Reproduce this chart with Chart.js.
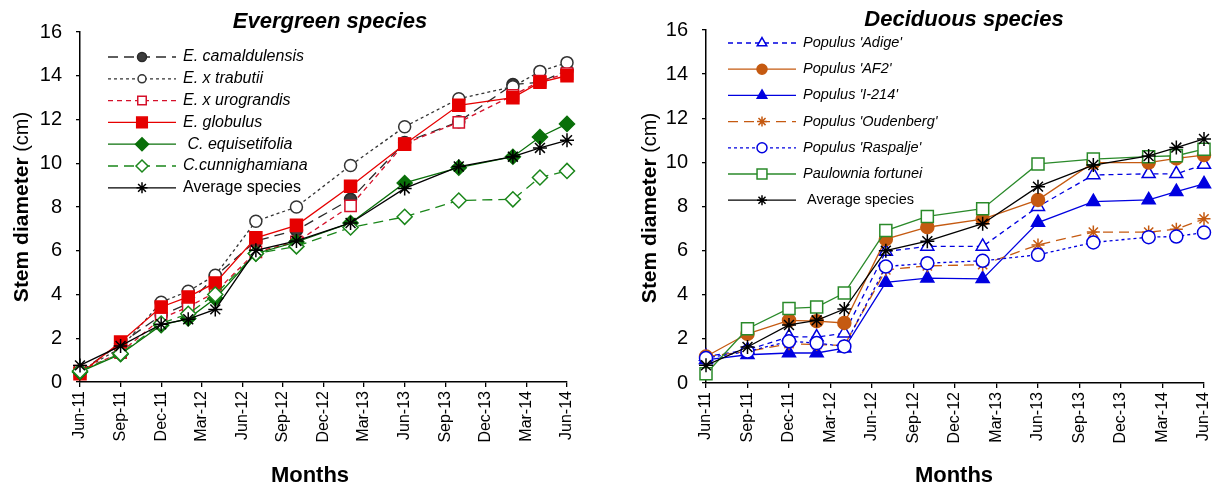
<!DOCTYPE html>
<html>
<head>
<meta charset="utf-8">
<script src="https://cdn.jsdelivr.net/npm/chart.js@4"></script>
<style>
body { margin: 0; background: #fff; width: 1215px; height: 486px; overflow: hidden; position: relative; }
canvas { position: absolute; top: 0; }
#left { left: 0; }
#right { left: 600px; }
</style>
</head>
<body>
<canvas id="left" width="600" height="486"></canvas>
<canvas id="right" width="615" height="486"></canvas>
<script>
// months since Jun-11 for each measurement
const months = [0, 3, 6, 8, 10, 13, 16, 20, 24, 28, 32, 34, 36];
const tickLabels = ['Jun-11','Sep-11','Dec-11','Mar-12','Jun-12','Sep-12','Dec-12','Mar-13','Jun-13','Sep-13','Dec-13','Mar-14','Jun-14'];

// evergreen
const camaldulensis = [0.46, 1.75, 3.05, 3.58, 4.83, 6.45, 6.94, 8.35, 10.95, 11.9, 13.6, 13.7, 14.25];
const trabutii      = [0.5, 1.55, 3.65, 4.15, 4.88, 7.35, 8.0, 9.9, 11.67, 12.95, 13.5, 14.2, 14.6];
const urograndis    = [0.5, 1.35, 2.9, 3.43, 4.1, 5.95, 6.4, 8.05, 10.9, 11.87, 13.1, 13.75, 14.1];
const globulus      = [0.38, 1.83, 3.43, 3.89, 4.53, 6.59, 7.16, 8.95, 10.87, 12.65, 13.0, 13.7, 14.0];
const equisetifolia = [0.46, 1.27, 2.6, 2.9, 3.82, 5.87, 6.4, 7.27, 9.1, 9.8, 10.3, 11.2, 11.8];
const cunnighamiana = [0.5, 1.3, 2.67, 3.12, 4.0, 5.87, 6.2, 7.06, 7.55, 8.3, 8.35, 9.35, 9.65];
const avgEvergreen  = [0.76, 1.65, 2.64, 2.87, 3.32, 6.02, 6.45, 7.27, 8.85, 9.85, 10.3, 10.7, 11.05];

// deciduous
const adige      = [1.2, 1.5, 2.1, 2.08, 2.26, 5.96, 6.19, 6.19, 7.99, 9.43, 9.48, 9.48, 9.9];
const af2        = [1.2, 2.23, 2.84, 2.8, 2.72, 6.52, 7.06, 7.43, 8.3, 9.99, 9.99, 10.18, 10.33];
const i214       = [1.05, 1.28, 1.36, 1.36, 1.58, 4.56, 4.75, 4.72, 7.27, 8.22, 8.3, 8.67, 9.02];
const oudenberg  = [1.2, 1.43, 1.78, 1.74, 1.7, 5.13, 5.31, 5.36, 6.26, 6.84, 6.84, 6.97, 7.44];
const raspalje   = [1.13, 1.43, 1.89, 1.81, 1.66, 5.28, 5.43, 5.54, 5.81, 6.37, 6.61, 6.64, 6.82];
const paulownia  = [0.42, 2.46, 3.38, 3.44, 4.08, 6.91, 7.55, 7.9, 9.93, 10.15, 10.26, 10.3, 10.6];
const avgDeciduous = [0.8, 1.63, 2.63, 2.84, 3.35, 6.0, 6.43, 7.22, 8.9, 9.88, 10.29, 10.67, 11.06];

const FONT = 'Arial, "Liberation Sans", sans-serif';

function pts(vals) {
    return months.map((m, i) => ({ x: m, y: vals[i] }));
}

function ds(label, vals, color, fill, style, dash, radius, legR, italic) {
    return {
        label: label,
        data: pts(vals),
        borderColor: color,
        backgroundColor: fill,
        pointBackgroundColor: fill,
        pointBorderColor: color,
        pointStyle: style,
        pointRadius: radius,
        pointBorderWidth: 1.5,
        borderWidth: 1.3,
        borderDash: dash,
        fill: false,
        tension: 0,
        clip: false,
        legR: legR,
        italic: italic !== false
    };
}

function makePlugin(p) {
    return {
        id: 'deco',
        afterDraw(chart) {
            const ctx = chart.ctx;
            ctx.save();
            // title
            ctx.fillStyle = '#000';
            ctx.font = 'italic bold 22px ' + FONT;
            ctx.textAlign = 'center';
            ctx.textBaseline = 'middle';
            ctx.fillText(p.title, p.titleX, p.titleY);

            // x axis title
            ctx.font = 'bold 22px ' + FONT;
            ctx.fillText('Months', p.xTitleX, 476);

            // y axis title, bold + normal part
            ctx.save();
            ctx.translate(p.yTitleX, p.yTitleY);
            ctx.rotate(-Math.PI / 2);
            ctx.font = 'bold 21px ' + FONT;
            const w1 = ctx.measureText('Stem diameter').width;
            ctx.font = '20px ' + FONT;
            const w2 = ctx.measureText(' (cm)').width;
            let x = -(w1 + w2) / 2;
            ctx.textAlign = 'left';
            ctx.font = 'bold 21px ' + FONT;
            ctx.fillText('Stem diameter', x, 0);
            ctx.font = '20px ' + FONT;
            ctx.fillText(' (cm)', x + w1, 0);
            ctx.restore();

            // legend inside the plot
            chart.data.datasets.forEach((d, i) => {
                const y = p.legY + i * p.legDy;
                ctx.save();
                ctx.strokeStyle = d.borderColor;
                ctx.lineWidth = d.borderWidth;
                ctx.setLineDash(d.borderDash || []);
                ctx.beginPath();
                ctx.moveTo(p.legX1, y);
                ctx.lineTo(p.legX2, y);
                ctx.stroke();
                ctx.setLineDash([]);
                ctx.fillStyle = d.pointBackgroundColor;
                ctx.strokeStyle = d.pointBorderColor;
                ctx.lineWidth = 1.5;
                Chart.helpers.drawPoint(ctx, {
                    pointStyle: d.pointStyle,
                    radius: d.legR,
                    borderWidth: 1.5,
                    rotation: 0
                }, (p.legX1 + p.legX2) / 2, y);
                ctx.fillStyle = '#000';
                ctx.font = (d.italic ? 'italic ' : '') + p.legFont + 'px ' + FONT;
                ctx.textAlign = 'left';
                ctx.textBaseline = 'middle';
                ctx.fillText(d.label, p.legText, y);
                ctx.restore();
            });
            ctx.restore();
        }
    };
}

function makeChart(id, datasets, p) {
    // later series drawn on top
    datasets.forEach((d, i) => { d.order = datasets.length - i; });
    return new Chart(document.getElementById(id), {
        type: 'line',
        data: { datasets: datasets },
        options: {
            responsive: false,
            animation: false,
            devicePixelRatio: 1,
            layout: { padding: { top: p.top, right: p.right, left: 0, bottom: 0 } },
            plugins: { legend: { display: false }, tooltip: { enabled: false } },
            scales: {
                x: {
                    type: 'linear',
                    min: 0,
                    max: 36,
                    afterFit: s => { s.height = p.xHeight; s.paddingLeft = 0; s.paddingRight = 0; },
                    afterBuildTicks: s => { s.ticks = tickLabels.map((t, i) => ({ value: i * 3 })); },
                    ticks: {
                        autoSkip: false,
                        maxRotation: 90,
                        minRotation: 90,
                        padding: 4,
                        color: '#000',
                        font: { family: FONT, size: 16 },
                        callback: v => tickLabels[Math.round(v / 3)]
                    },
                    grid: { drawOnChartArea: false, drawTicks: true, tickLength: 5, color: '#000', lineWidth: 1.3 },
                    border: { color: '#000', width: 1.5 }
                },
                y: {
                    min: 0,
                    max: 16,
                    afterFit: s => { s.width = p.yWidth; },
                    ticks: { stepSize: 2, padding: 14, color: '#000', font: { family: FONT, size: 20 } },
                    grid: { drawOnChartArea: false, drawTicks: true, tickLength: 4, color: '#000', lineWidth: 1.3 },
                    border: { color: '#000', width: 1.5 }
                }
            }
        },
        plugins: [makePlugin(p)]
    });
}

const evergreen = [
    ds('E. camaldulensis', camaldulensis, '#2a2a2a', '#3c3c3c', 'circle', [10, 6], 6, 4.5),
    ds('E. x trabutii', trabutii, '#333', '#fff', 'circle', [3, 3], 6, 4),
    ds('E. x urograndis', urograndis, '#d5102a', '#fff', 'rect', [5, 4], 8, 6),
    ds('E. globulus', globulus, '#e60000', '#e60000', 'rect', [], 8.5, 7.5),
    ds(' C. equisetifolia', equisetifolia, '#0a700a', '#0a700a', 'rectRot', [], 7.5, 6.5),
    ds('C.cunnighamiana', cunnighamiana, '#1a861a', '#fff', 'rectRot', [10, 6], 7.5, 6),
    ds('Average species', avgEvergreen, '#000', '#000', 'star', [], 7, 5.5, false)
];

const deciduous = [
    ds("Populus 'Adige'", adige, '#0000e0', '#fff', 'triangle', [5, 4], 7.5, 5.5),
    ds("Populus 'AF2'", af2, '#c55a11', '#c55a11', 'circle', [], 6.5, 5),
    ds("Populus 'I-214'", i214, '#0000e0', '#0000e0', 'triangle', [], 7.5, 5.5),
    ds("Populus 'Oudenberg'", oudenberg, '#c55a11', '#c55a11', 'star', [10, 6], 6.5, 5),
    ds("Populus 'Raspalje'", raspalje, '#0000e0', '#fff', 'circle', [3, 3], 6.5, 5),
    ds('Paulownia fortunei', paulownia, '#2a8a2a', '#fff', 'rect', [], 8.5, 7),
    ds(' Average species', avgDeciduous, '#000', '#000', 'star', [], 7, 5, false)
];

makeChart('left', evergreen, {
    top: 32, right: 33, xHeight: 104, yWidth: 80,
    title: 'Evergreen species', titleX: 330, titleY: 22,
    xTitleX: 310,
    yTitleX: 22, yTitleY: 207,
    legX1: 108, legX2: 176, legText: 183, legY: 57, legDy: 21.8, legFont: 16
});

makeChart('right', deciduous, {
    top: 30, right: 11, xHeight: 103, yWidth: 106,
    title: 'Deciduous species', titleX: 364, titleY: 20,
    xTitleX: 354,
    yTitleX: 50, yTitleY: 208,
    legX1: 128, legX2: 196, legText: 203, legY: 43, legDy: 26.2, legFont: 14.5
});
</script>
</body>
</html>
